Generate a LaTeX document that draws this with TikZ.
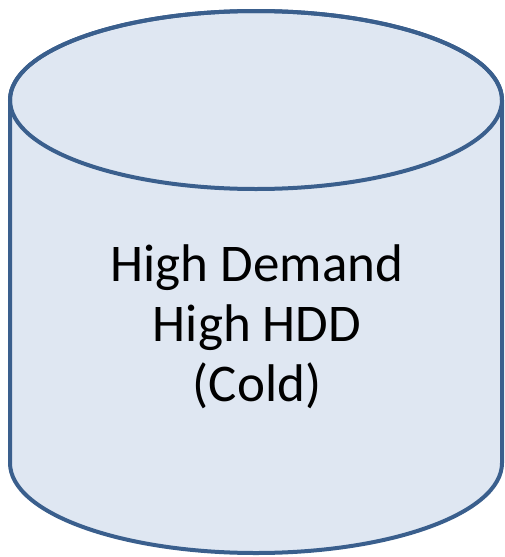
\documentclass[tikz,border=0pt]{standalone}
\usepackage{fontspec}
\setmainfont{Carlito}
\definecolor{cylfill}{HTML}{DFE7F2}
\definecolor{cylline}{HTML}{3A5F8D}
\begin{document}
\begin{tikzpicture}[x=1pt,y=-1pt,
  cyl/.style={draw=cylline,fill=cylfill,line width=4pt},
  lbl/.style={align=center,font=\fontsize{53}{60}\selectfont,text=black}]
\useasboundingbox (0,0) rectangle (504,557);
\path[cyl] (10,100) -- (10,463) arc[start angle=180,end angle=0,x radius=246,y radius=90] -- (502,100) arc[start angle=360,end angle=180,x radius=246,y radius=89] -- cycle;
\draw[cylline,line width=4pt] (256,100) ellipse[x radius=246,y radius=89];
\node[lbl] (t) at (257,327) {High Demand\\High HDD\\(Cold)};
\end{tikzpicture}
\end{document}
